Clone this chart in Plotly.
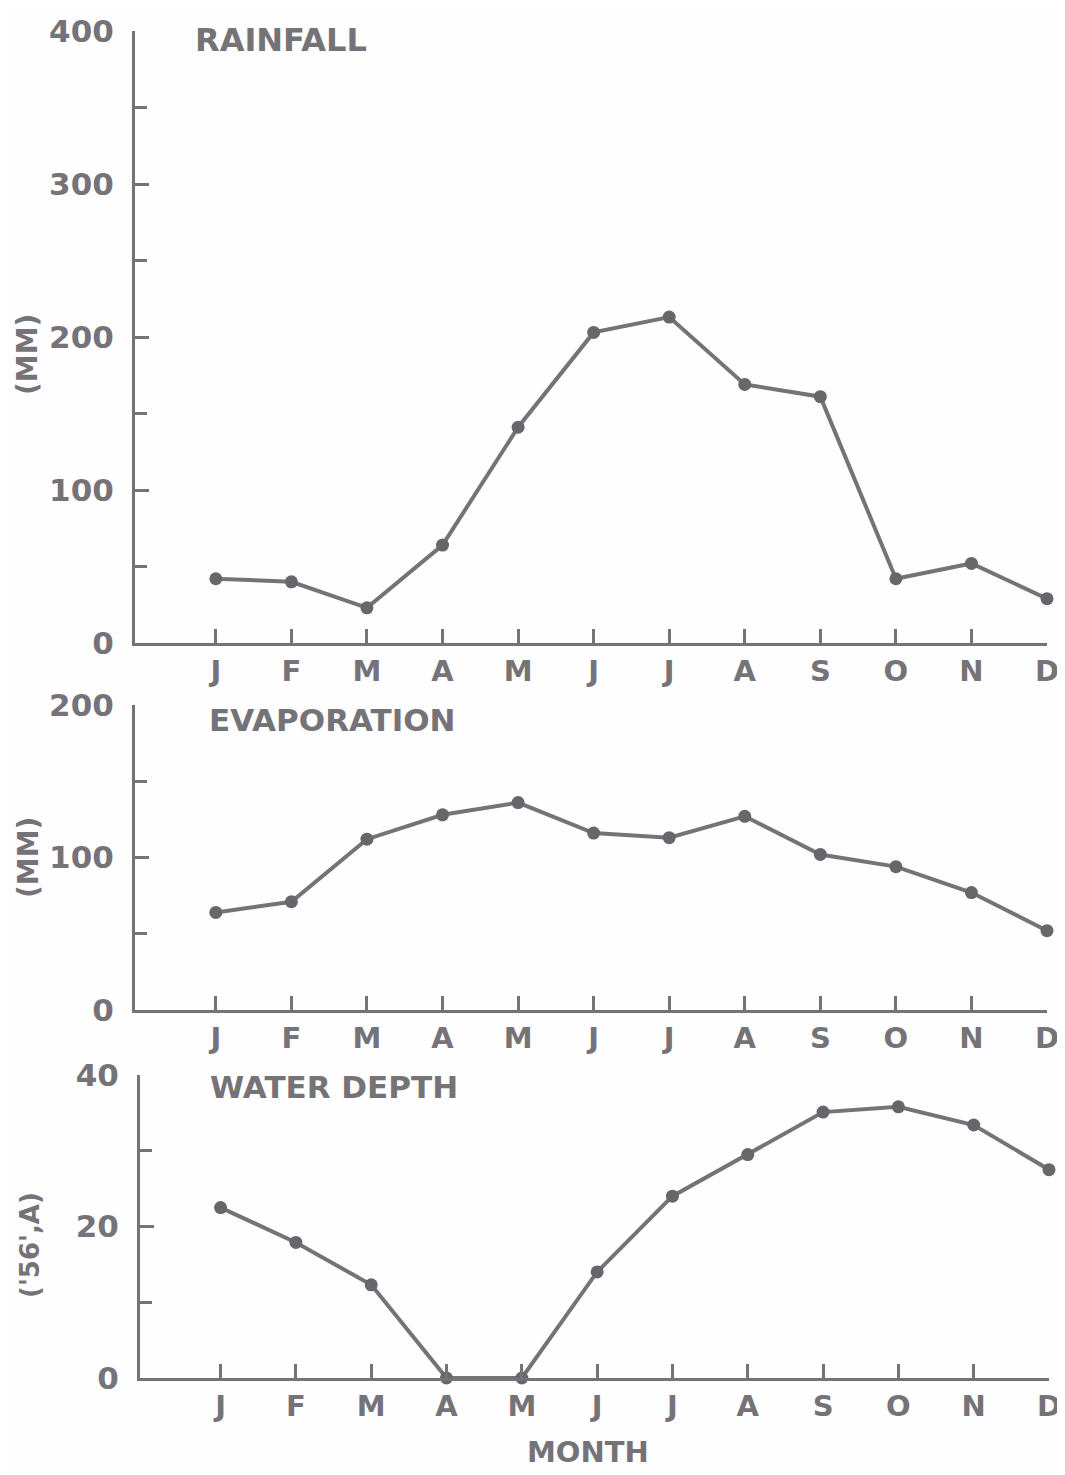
import plotly.graph_objects as go

months = ["J", "F", "M", "A", "M", "J", "J", "A", "S", "O", "N", "D"]
month_pos = list(range(1, 13))
rainfall = [42, 40, 23, 64, 141, 203, 213, 169, 161, 42, 52, 29]
evaporation = [64, 71, 112, 128, 136, 116, 113, 127, 102, 94, 77, 52]
water_depth = [22.5, 17.9, 12.3, 0, 0, 14, 24, 29.5, 35.1, 35.8, 33.4, 27.5]

rain_ticks = [0, 100, 200, 300, 400]
evap_ticks = [0, 100, 200]
depth_ticks = [0, 20, 40]

# page body adds an 8px margin; the figure is sized to fill the rest of the window
OFF = 8
W, H = 1065 - OFF, 1475 - OFF
INK = "#757278"
DOT = "#68656b"
FONT = "DejaVu Sans"

def px_x(v):
    return (v - OFF) / W

def px_y(v):
    return 1 - (v - OFF) / H

fig = go.Figure()

panels = [
    (rainfall, "", (135, 1047), (31, 643), [0, 400], rain_ticks, 50),
    (evaporation, "2", (135, 1047), (705, 1010), [0, 200], evap_ticks, 50),
    (water_depth, "3", (140, 1049), (1075, 1378), [0, 40], depth_ticks, 10),
]

for vals, sfx, (x0, x1), (y0, y1), yr, yt, minor in panels:
    fig.add_trace(go.Scatter(
        x=month_pos, y=vals, mode="lines+markers",
        line=dict(color=INK, width=4),
        marker=dict(color=DOT, size=13),
        xaxis="x" + sfx, yaxis="y" + sfx, cliponaxis=False, showlegend=False,
    ))
    fig.layout["xaxis" + sfx] = dict(
        domain=[px_x(x0), px_x(x1)], range=[-0.07, 12],
        anchor="y" + sfx, tickvals=month_pos, ticktext=months,
        ticks="inside", ticklen=14, tickwidth=3, tickcolor=INK,
        showline=True, linecolor=INK, linewidth=3, showgrid=False, zeroline=False,
        tickfont=dict(family=FONT, size=29, color=INK, weight="bold"), ticklabelstandoff=0,
        fixedrange=True, automargin=False,
    )
    fig.layout["yaxis" + sfx] = dict(
        domain=[px_y(y1), px_y(y0)], range=yr,
        anchor="x" + sfx, tickvals=yt,
        ticks="inside", ticklen=14, tickwidth=3, tickcolor=INK,
        minor=dict(dtick=minor, ticks="inside", ticklen=12, tickwidth=3, tickcolor=INK, showgrid=False),
        showline=True, linecolor=INK, linewidth=3, showgrid=False, zeroline=False,
        tickfont=dict(family=FONT, size=31, color=INK, weight="bold"), ticklabelstandoff=12,
        fixedrange=True, automargin=False,
    )

annots = [
    ("RAINFALL", 193, 40, 0, 32),
    ("EVAPORATION", 207, 720, 0, 31),
    ("WATER DEPTH", 208, 1087, 0, 31),
    ("MONTH", 588, 1452, 0, 29),
    ("(MM)", 28, 355, -90, 28),
    ("(MM)", 28, 858, -90, 28),
    ("('56',A)", 30, 1245, -90, 26),
]
for text, x, y, rot, size in annots:
    fig.add_annotation(
        text=text, x=px_x(x), y=px_y(y), xref="paper", yref="paper",
        xanchor="left" if (rot == 0 and text != "MONTH") else "center",
        yanchor="middle", showarrow=False, textangle=rot,
        font=dict(family=FONT, size=size, color=INK, weight="bold"),
    )

fig.update_layout(
    width=W, height=H, margin=dict(l=0, r=0, t=0, b=0, autoexpand=False),
    paper_bgcolor="#fefefe", plot_bgcolor="rgba(0,0,0,0)",
)

fig.write_html("out.html")
